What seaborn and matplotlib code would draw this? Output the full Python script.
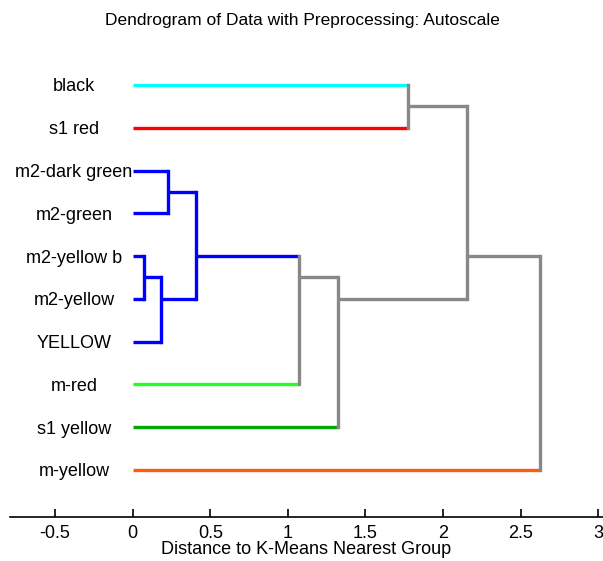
import matplotlib
matplotlib.use("Agg")
import matplotlib.pyplot as plt
import seaborn as sns
import numpy as np

# leaves, top to bottom
LEAF_LABELS = ["black", "s1 red", "m2-dark green", "m2-green", "m2-yellow b",
               "m2-yellow", "YELLOW", "m-red", "s1 yellow", "m-yellow"]
LEAF_COLORS = ["#00FFFF", "#FF0000", "#0000FF", "#0000FF", "#0000FF",
               "#0000FF", "#0000FF", "#22FF22", "#00AA00", "#FF5A10"]

# merges (node ids continue after the leaves: 10, 11, ...)
MERGE_LEFT = [4, 10, 2, 12, 13, 14, 0, 16, 17]
MERGE_RIGHT = [5, 6, 3, 11, 7, 8, 1, 15, 9]
MERGE_HEIGHT = [0.073, 0.183, 0.226, 0.406, 1.074, 1.32, 1.775, 2.157, 2.625]
MERGE_COLORS = ["#0000FF", "#0000FF", "#0000FF", "#0000FF",
                "#888888", "#888888", "#888888", "#888888", "#888888"]

sns.set_theme(style="white")
plt.rcParams["font.family"] = ["Liberation Sans", "DejaVu Sans"]
plt.rcParams["text.color"] = "black"
plt.rcParams["axes.labelcolor"] = "black"
plt.rcParams["xtick.labelcolor"] = "black"
plt.rcParams["ytick.labelcolor"] = "black"

fig = plt.figure(figsize=(6.03, 5.61), dpi=100)
ax = fig.add_axes([10 / 603, 1 - 517 / 561, 593 / 603, (517 - 42.2) / 561])

n = len(LEAF_LABELS)
xpos = [0.0] * n
leaves = [[i] for i in range(n)]
colors = list(LEAF_COLORS)
lw = 2.4

for a, b, h, c in zip(MERGE_LEFT, MERGE_RIGHT, MERGE_HEIGHT, MERGE_COLORS):
    ya = np.mean(leaves[a])
    yb = np.mean(leaves[b])
    ax.plot([xpos[a], h], [ya, ya], color=colors[a], lw=lw, solid_capstyle="butt")
    ax.plot([xpos[b], h], [yb, yb], color=colors[b], lw=lw, solid_capstyle="butt")
    ax.plot([h, h], [ya, yb], color=c, lw=lw, solid_capstyle="projecting")
    xpos.append(h)
    leaves.append(leaves[a] + leaves[b])
    colors.append(c)

ax.set_xlim(-0.79, 3.03)
ax.set_ylim(10.1, -1.0)
ax.set_xticks(np.arange(-0.5, 3.01, 0.5))
ax.set_xticklabels(["-0.5", "0", "0.5", "1", "1.5", "2", "2.5", "3"])
ax.set_yticks(range(n))
ax.set_yticklabels(LEAF_LABELS, ha="center")

sns.despine(ax=ax, left=True, top=True, right=True)
ax.spines["bottom"].set_color("black")
ax.spines["bottom"].set_linewidth(1.2)
ax.tick_params(axis="x", direction="in", length=6, width=1.2, color="black",
               labelsize=13, pad=6, bottom=True)
ax.tick_params(axis="y", length=0, labelsize=13, pad=-46)
ax.set_xlabel("Distance to K-Means Nearest Group", fontsize=13, labelpad=-1)
fig.suptitle("Dendrogram of Data with Preprocessing: Autoscale",
             fontsize=12.5, x=302 / 603, y=1 - 21 / 561, va="center")

fig.savefig("out.png", dpi=100)
